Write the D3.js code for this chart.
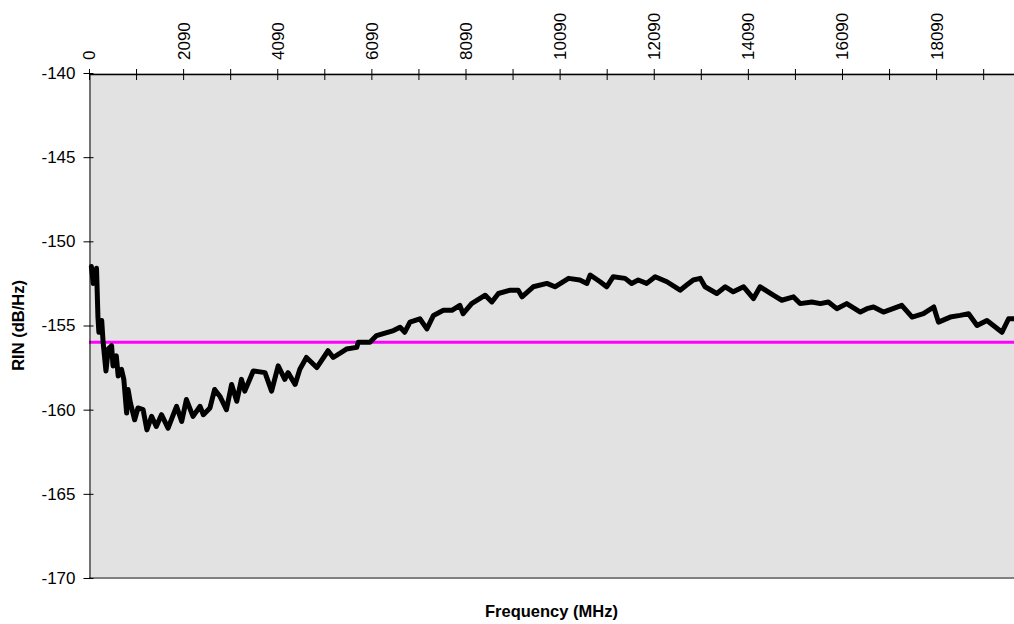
<!DOCTYPE html>
<html lang="en">
<head>
    <meta charset="UTF-8">
    <title>RIN vs Frequency</title>
    <script src="https://d3js.org/d3.v7.min.js"></script>
    <style>
        body {
            margin: 0;
            background: #fff;
        }
        svg text {
            font-family: "Liberation Sans", Arial, sans-serif;
        }
        .tick text {
            font-size: 17px;
            fill: #000;
        }
        .axis-title {
            font-size: 16.5px;
            font-weight: bold;
        }
    </style>
</head>
<body>
    <svg width="1014" height="624"></svg>
    <script>
        // frequency (MHz) and RIN (dB/Hz)
        const freq = [140, 180, 250, 280, 300, 360, 390, 450, 500, 570, 600, 670, 710, 780, 830, 890, 920, 970,
            1060, 1130, 1240, 1320, 1420, 1520, 1630, 1770, 1950, 2060, 2160, 2300, 2450, 2520, 2660, 2760, 2870,
            3010, 3120, 3230, 3330, 3400, 3580, 3830, 3970, 4110, 4250, 4320, 4470, 4570, 4710, 4930, 5170, 5280,
            5560, 5780, 5810, 6060, 6200, 6560, 6700, 6800, 6910, 7120, 7270, 7410, 7620, 7800, 7970, 8040, 8220,
            8510, 8650, 8790, 9040, 9210, 9290, 9530, 9820, 9990, 10280, 10520, 10670, 10740, 10950, 11090, 11230,
            11480, 11620, 11760, 11940, 12120, 12370, 12650, 12790, 12930, 13080, 13180, 13430, 13610, 13780, 14000,
            14210, 14350, 14630, 14810, 15060, 15200, 15450, 15630, 15800, 15980, 16190, 16480, 16620, 16760, 16970,
            17360, 17580, 17820, 18040, 18140, 18390, 18600, 18780, 18960, 19170, 19490, 19630, 19740];
        const rin = [-151.5, -152.5, -151.6, -154.5, -155.4, -154.7, -156.0, -157.7, -156.4, -156.2, -157.4, -156.8,
            -158.0, -157.6, -158.2, -160.2, -158.8, -159.6, -160.6, -159.9, -160.0, -161.2, -160.4, -161.0, -160.3,
            -161.1, -159.8, -160.7, -159.4, -160.4, -159.8, -160.3, -159.9, -158.8, -159.2, -160.0, -158.5, -159.5,
            -158.2, -158.9, -157.7, -157.8, -158.9, -157.4, -158.2, -157.8, -158.5, -157.6, -156.9, -157.5, -156.5,
            -156.9, -156.4, -156.3, -156.0, -156.0, -155.6, -155.3, -155.1, -155.4, -154.8, -154.6, -155.2, -154.4,
            -154.1, -154.1, -153.8, -154.3, -153.7, -153.2, -153.6, -153.1, -152.9, -152.9, -153.3, -152.7, -152.5,
            -152.7, -152.2, -152.3, -152.5, -152.0, -152.4, -152.7, -152.1, -152.2, -152.5, -152.3, -152.5, -152.1,
            -152.4, -152.9, -152.6, -152.3, -152.2, -152.7, -153.1, -152.7, -153.0, -152.7, -153.4, -152.7, -153.2,
            -153.5, -153.3, -153.7, -153.6, -153.7, -153.6, -154.0, -153.7, -154.2, -154.0, -153.9, -154.2, -153.8,
            -154.5, -154.3, -153.9, -154.8, -154.5, -154.4, -154.3, -155.0, -154.7, -155.4, -154.6, -154.6];
        const limit = -156;

        const xTicks = d3.range(90, 20000, 1000);
        const xLabels = ["0", "2090", "4090", "6090", "8090", "10090", "12090", "14090", "16090", "18090"];
        const yTicks = [-170, -165, -160, -155, -150, -145, -140];

        const plotLeft = 89, plotTop = 73, plotBottom = 578, plotRight = 1026;

        const svg = d3.select("svg");

        const x = d3.scaleLinear().domain([90, 20000]).range([plotLeft, plotRight]);
        const y = d3.scaleLinear().domain([-170, -140]).range([plotBottom, plotTop]);

        // plot area
        svg.append("rect")
            .attr("x", plotLeft)
            .attr("y", plotTop)
            .attr("width", plotRight - plotLeft)
            .attr("height", plotBottom - plotTop)
            .attr("fill", "#e2e2e2");

        svg.append("line")
            .attr("x1", plotLeft).attr("x2", plotRight)
            .attr("y1", plotBottom).attr("y2", plotBottom)
            .attr("stroke", "#808080")
            .attr("stroke-width", 2);

        // limit line
        svg.append("line")
            .attr("x1", plotLeft).attr("x2", plotRight)
            .attr("y1", y(limit)).attr("y2", y(limit))
            .attr("stroke", "#ff00ff")
            .attr("stroke-width", 3);

        // trace
        const line = d3.line()
            .x(function(d, i) { return x(freq[i]); })
            .y(function(d) { return y(d); });

        svg.append("path")
            .datum(rin)
            .attr("d", line)
            .attr("fill", "none")
            .attr("stroke", "#000")
            .attr("stroke-width", 5)
            .attr("stroke-linejoin", "round")
            .attr("stroke-linecap", "round");

        // top axis
        const xAxis = svg.append("g")
            .attr("transform", "translate(0," + (plotTop + 1) + ")")
            .call(d3.axisTop(x)
                .tickValues(xTicks)
                .tickSizeInner(5)
                .tickSizeOuter(0)
                .tickPadding(14)
                .tickFormat(function(d, i) { return i % 2 === 0 ? xLabels[i / 2] : ""; }));
        xAxis.attr("font-family", null);
        xAxis.select(".domain").attr("stroke", "#000").attr("stroke-width", 1.5);
        xAxis.selectAll(".tick line").attr("y2", 6).attr("y1", -5);
        xAxis.selectAll(".tick text")
            .attr("transform", "rotate(-90)")
            .attr("text-anchor", "start")
            .attr("x", 14)
            .attr("y", 0)
            .attr("dy", "0.35em");

        // left axis
        const yAxis = svg.append("g")
            .attr("transform", "translate(" + (plotLeft + 0.5) + ",0)")
            .call(d3.axisLeft(y)
                .tickValues(yTicks)
                .tickSizeInner(6)
                .tickSizeOuter(0)
                .tickPadding(8)
                .tickFormat(function(d) { return String(d); }));
        yAxis.attr("font-family", null);
        yAxis.select(".domain").attr("stroke", "#000");
        yAxis.selectAll(".tick line").attr("x2", 4).attr("x1", -6);
        yAxis.selectAll(".tick text").attr("x", -14);

        // axis titles
        svg.append("text")
            .attr("class", "axis-title")
            .attr("x", (plotLeft + 1014) / 2)
            .attr("y", 617)
            .attr("text-anchor", "middle")
            .text("Frequency (MHz)");

        svg.append("text")
            .attr("class", "axis-title")
            .attr("transform", "translate(24," + ((plotTop + plotBottom) / 2) + ") rotate(-90)")
            .attr("text-anchor", "middle")
            .text("RIN (dB/Hz)");
    </script>
</body>
</html>
